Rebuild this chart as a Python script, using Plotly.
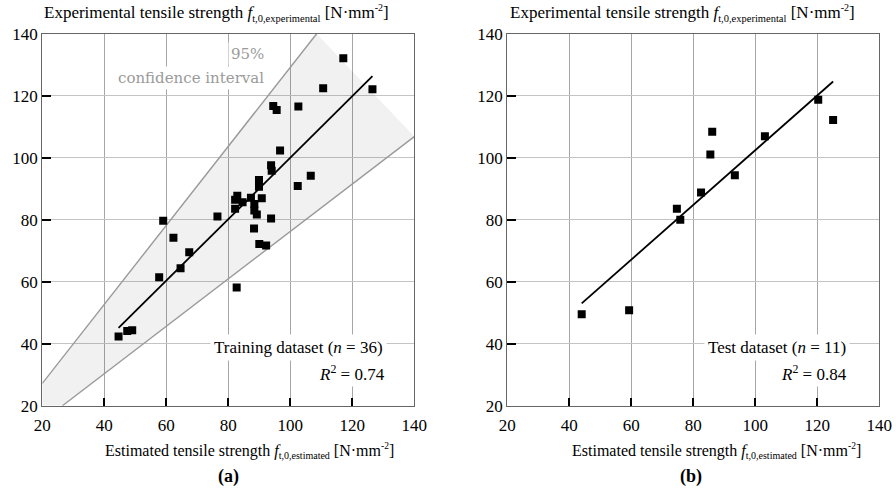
import numpy as np
import plotly.graph_objects as go

# ---------------- data ----------------
train_est = [117.1, 110.6, 126.5, 94.5, 95.6, 102.6, 96.7, 93.8, 94.0, 106.6,
             102.4, 89.9, 89.9, 82.9, 82.2, 84.6, 87.3, 90.8, 88.4, 82.2,
             88.4, 89.2, 93.8, 88.3, 90.0, 92.2, 82.7, 59.0, 76.5, 62.3,
             67.4, 64.6, 57.7, 44.6, 47.4, 49.0]
train_exp = [132.1, 122.4, 122.1, 116.7, 115.4, 116.5, 102.3, 97.6, 95.8, 94.2,
             90.9, 92.8, 90.6, 87.7, 86.4, 85.6, 87.1, 86.9, 85.1, 83.5,
             83.0, 81.7, 80.4, 77.2, 72.2, 71.7, 58.1, 79.7, 81.0, 74.2,
             69.5, 64.3, 61.4, 42.3, 44.1, 44.3]
test_est = [44.0, 59.3, 74.7, 75.8, 82.5, 85.5, 86.1, 93.4, 103.1, 120.3, 125.1]
test_exp = [49.5, 50.8, 83.5, 80.0, 88.8, 101.0, 108.4, 94.3, 106.9, 118.7, 112.2]

# 95 % confidence band of the training set (end points of the two bounding lines)
ci_upper_x = [20, 108.5]
ci_upper_y = [27.2, 140]
ci_lower_x = [26.5, 140]
ci_lower_y = [20, 106.8]

ticks = [20, 40, 60, 80, 100, 120, 140]
r2_train = 0.74
r2_test = 0.84

# ---------------- figure ----------------
W, H = 896, 491
FONT = "Liberation Serif"
fig = go.Figure()

def fitline(xs, ys):
    a, b = np.polyfit(xs, ys, 1)
    xx = np.array([min(xs), max(xs)])
    return xx, a * xx + b

# band polygon (upper line, cap, lower line, axis corner)
band_x = ci_upper_x + ci_lower_x[::-1] + [ticks[0]]
band_y = ci_upper_y + ci_lower_y[::-1] + [ticks[0]]
fig.add_trace(go.Scatter(x=band_x, y=band_y, fill="toself", mode="lines",
                         line=dict(width=0), fillcolor="rgba(0,0,0,0.055)",
                         hoverinfo="skip", showlegend=False, xaxis="x", yaxis="y"))
for cx, cy in [(ci_upper_x, ci_upper_y), (ci_lower_x, ci_lower_y)]:
    fig.add_trace(go.Scatter(x=cx, y=cy, mode="lines",
                             line=dict(color="#9a9a9a", width=1.4),
                             showlegend=False, xaxis="x", yaxis="y"))

fx, fy = fitline(train_est, train_exp)
fig.add_trace(go.Scatter(x=fx, y=fy, mode="lines", line=dict(color="black", width=1.8),
                         showlegend=False, xaxis="x", yaxis="y"))
fig.add_trace(go.Scatter(x=train_est, y=train_exp, mode="markers",
                         marker=dict(symbol="square", size=8, color="black"),
                         showlegend=False, xaxis="x", yaxis="y"))

gx, gy = fitline(test_est, test_exp)
fig.add_trace(go.Scatter(x=gx, y=gy, mode="lines", line=dict(color="black", width=1.8),
                         showlegend=False, xaxis="x2", yaxis="y2"))
fig.add_trace(go.Scatter(x=test_est, y=test_exp, mode="markers",
                         marker=dict(symbol="square", size=8, color="black"),
                         showlegend=False, xaxis="x2", yaxis="y2"))

xdom1 = [42.3 / W, 414.3 / W]
xdom2 = [507.3 / W, 879.3 / W]
ydom = [1 - 405.7 / H, 1 - 33.7 / H]
NB = "\u00a0"

def xax(dom, anchor):
    return dict(domain=dom, anchor=anchor, range=[20, 140], tickvals=ticks,
                showgrid=True, gridcolor="#a6a6a6", gridwidth=1, zeroline=False,
                ticks="inside", ticklen=8, tickwidth=1.5, tickcolor="black",
                showline=True, linecolor="#666666", linewidth=1.2, mirror=True,
                tickfont=dict(family=FONT, size=17, color="black"),
                ticklabelstandoff=4, automargin=False)

def yax(anchor):
    return dict(domain=ydom, anchor=anchor, range=[20, 140], tickvals=ticks,
                showgrid=True, gridcolor="#c4c4c4", gridwidth=1, zeroline=False,
                ticks="inside", ticklen=9, tickwidth=2, tickcolor="black",
                showline=True, linecolor="#666666", linewidth=1.2, mirror=True,
                tickfont=dict(family=FONT, size=17, color="black"),
                ticksuffix=NB * 2, automargin=False)

def px(x):
    return x / W

def py(y):
    return 1 - y / H

def label(main, sub, subsize):
    return (main + ' <i>f</i><sub><span style="font-size:%.1fpx">%s</span></sub>' % (subsize, sub)
            + ' [N·mm<sup><span style="font-size:%.1fpx">-2</span></sup>]' % (subsize - 0.5))

ylab = label("Experimental tensile strength", "t,0,experimental", 10.5)
xlab = label("Estimated tensile strength", "t,0,estimated", 10)

ann = []
for x0 in (42.3, 508):
    ann.append(dict(text=ylab, x=px(x0), y=py(13), xanchor="left", yanchor="middle",
                    font=dict(family=FONT, size=17, color="black")))
for x0 in (103, 570):
    ann.append(dict(text=xlab, x=px(x0), y=py(451), xanchor="left", yanchor="middle",
                    font=dict(family=FONT, size=16, color="black")))
for t, x0 in (("<b>(a)</b>", 228), ("<b>(b)</b>", 691)):
    ann.append(dict(text=t, x=px(x0), y=py(476), xanchor="center", yanchor="middle",
                    font=dict(family=FONT, size=18, color="black")))

ann.append(dict(text="Training dataset (<i>n</i> = 36)", x=px(387), y=py(347.5),
                xanchor="right", yanchor="middle", bgcolor="white", borderpad=3))
ann.append(dict(text=f"<i>R</i><sup>2</sup> = {r2_train:.2f}", x=px(388), y=py(373),
                xanchor="right", yanchor="middle", bgcolor="white", borderpad=2))
ann.append(dict(text="Test dataset (<i>n</i> = 11)", x=px(850), y=py(347.5),
                xanchor="right", yanchor="middle", bgcolor="white", borderpad=3))
ann.append(dict(text=f"<i>R</i><sup>2</sup> = {r2_test:.2f}", x=px(850), y=py(373),
                xanchor="right", yanchor="middle", bgcolor="white", borderpad=2))

for a in ann:
    a.update(xref="paper", yref="paper", showarrow=False)
    a.setdefault("font", dict(family=FONT, size=17, color="black"))

for t, yy in (("95%", 54), ("confidence interval", 78)):
    ann.append(dict(text=t, x=px(267), y=py(yy), xref="paper", yref="paper",
                    xanchor="right", yanchor="middle", showarrow=False,
                    bgcolor="white", borderpad=2,
                    font=dict(family="DejaVu Serif", size=15, color="#9a9a9a")))

fig.update_layout(
    width=W, height=H, margin=dict(l=0, r=0, t=0, b=0, autoexpand=False),
    paper_bgcolor="white", plot_bgcolor="white",
    xaxis=xax(xdom1, "y"), yaxis=yax("x"),
    xaxis2=xax(xdom2, "y2"), yaxis2=yax("x2"),
    annotations=ann, showlegend=False,
)

fig.write_html("out.html", config={"displayModeBar": False},
               post_script="document.body.style.margin='0';document.body.style.overflow='hidden';")
